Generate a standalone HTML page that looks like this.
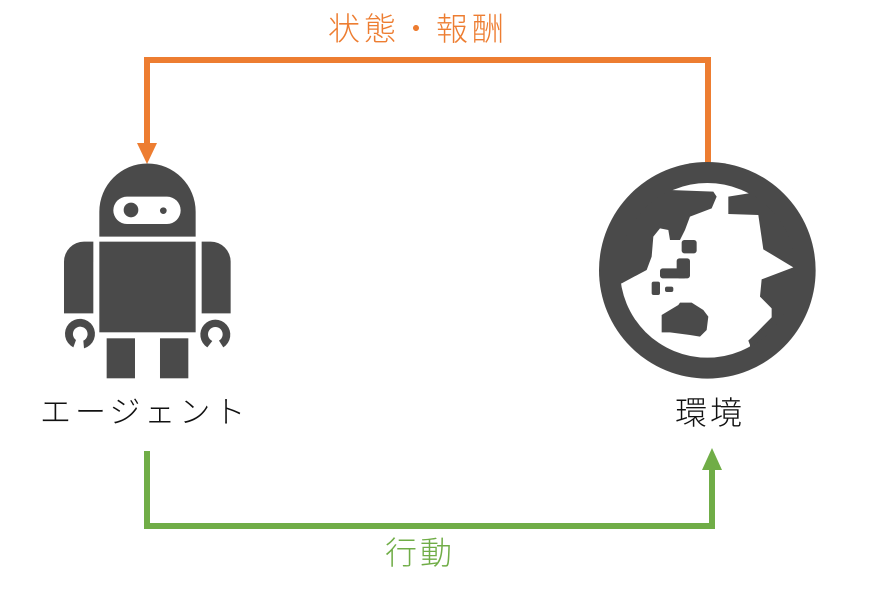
<!DOCTYPE html>
<html><head><meta charset="utf-8"><style>
html,body{margin:0;padding:0;background:#fff;}
body{width:879px;height:601px;position:relative;overflow:hidden;font-family:"Liberation Sans","Noto Sans CJK JP",sans-serif;}
.t{position:absolute;white-space:nowrap;font-weight:300;line-height:1;}
</style></head><body>
<svg width="879" height="601" style="position:absolute;left:0;top:0">
  <defs>
    <clipPath id="inner"><circle cx="352" cy="361" r="264"/></clipPath>
  </defs>
  <polyline points="147,146 147,60 708,60 708,164" fill="none" stroke="#ED7D31" stroke-width="6"/>
  <polygon points="137,143 157,143 147,164" fill="#ED7D31"/>
  <polyline points="147,451 147,526 712,526 712,468" fill="none" stroke="#70AD47" stroke-width="6"/>
  <polygon points="702,470 722,470 712,448" fill="#70AD47"/>
  <g transform="translate(50,150) scale(0.3333)" fill="#4a4a4a">
    <path d="M148 260 L148 185 A144.5 144.5 0 0 1 437 185 L437 260 Z"/>
    <rect x="190" y="140" width="202" height="82" rx="41" fill="#fff"/>
    <circle cx="243" cy="180" r="22"/>
    <circle cx="340" cy="182" r="10"/>
    <rect x="148" y="275" width="289" height="272"/>
    <path d="M42 490 L42 335 A60 60 0 0 1 102 275 L130 275 L130 490 Z"/>
    <path d="M455 490 L455 275 L482 275 A60 60 0 0 1 542 335 L542 490 Z"/>
    <path d="M70 592 A45 45 0 1 1 102 595 L100 572 A22 22 0 1 0 78 570 Z"/>
    <path d="M472 592 A45 45 0 1 1 520 592 L507 572 A22 22 0 1 0 487 573 Z"/>
    <rect x="170" y="565" width="85" height="120"/>
    <rect x="330" y="565" width="85" height="120"/>
  </g>
  <g transform="translate(590,150) scale(0.3333)">
    <circle cx="352" cy="361" r="325" fill="#4a4a4a"/>
    <circle cx="352" cy="361" r="262" fill="#fff"/>
    <g fill="#4a4a4a" clip-path="url(#inner)">
      <polygon points="240,120 370,125 380,140 365,175 300,200 285,240 270,270 240,270 235,240 210,235 190,260 185,320 170,360 95,400 40,400 40,40 240,40"/>
      <polygon points="415,140 490,128 700,40 700,700 480,700 480,585 475,572 500,548 545,502 545,475 510,440 515,388 610,352 520,298 505,195 415,192"/>
      <polygon points="215,495 265,465 270,458 305,458 340,480 355,500 350,540 330,560 300,555 240,547 215,547"/>
      <rect x="275" y="270" width="45" height="40" rx="8"/>
      <rect x="260" y="325" width="40" height="60" rx="8"/>
      <rect x="210" y="355" width="80" height="30" rx="8"/>
      <rect x="185" y="395" width="25" height="40" rx="6"/>
      <rect x="225" y="410" width="25" height="16" rx="6"/>
    </g>
  </g>
</svg>
<div class="t" style="left:328px;top:13px;font-size:32px;color:#ED7D31;letter-spacing:4px;">状態・報酬</div>
<div class="t" style="left:40px;top:397px;font-size:31px;color:#111;letter-spacing:4px;">エージェント</div>
<div class="t" style="left:675px;top:397px;font-size:32px;color:#111;letter-spacing:3px;">環境</div>
<div class="t" style="left:385px;top:537px;font-size:32px;color:#70AD47;letter-spacing:3px;">行動</div>
</body></html>
